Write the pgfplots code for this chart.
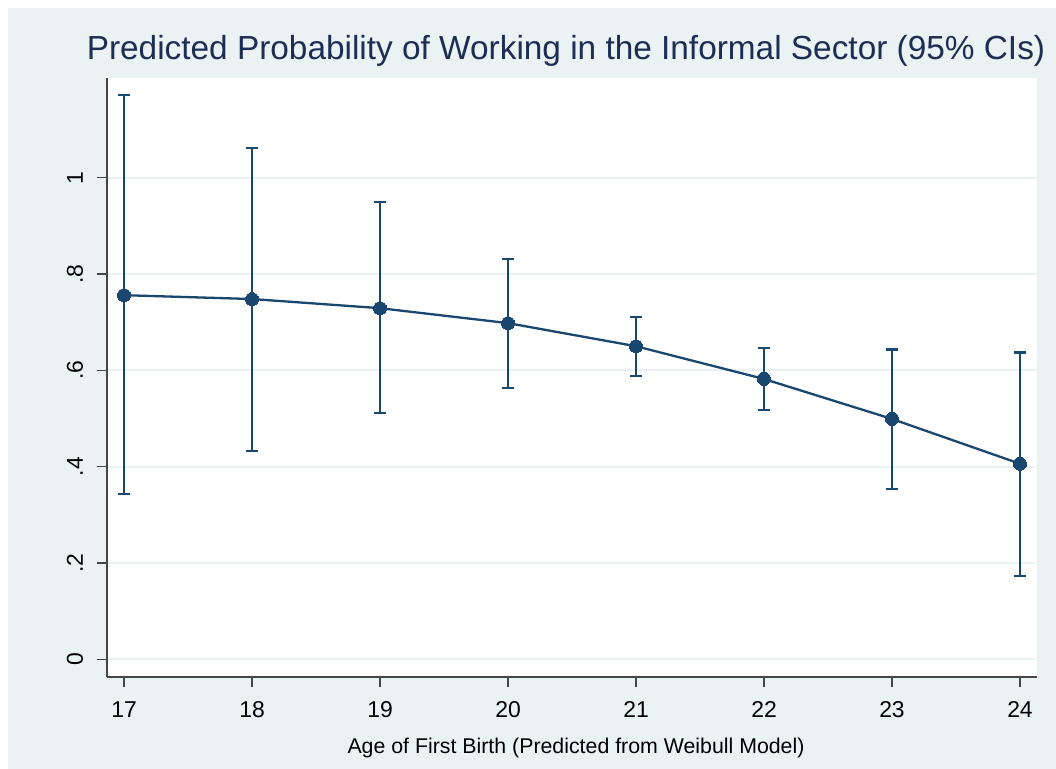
\documentclass[border=0pt]{standalone}
\usepackage{pgfplots}
\pgfplotsset{compat=1.18}
\usepackage{fontspec}
\setmainfont{Liberation Sans}
\definecolor{bgc}{RGB}{234,242,243}
\definecolor{navy}{RGB}{26,71,111}
\definecolor{ttl}{RGB}{30,45,83}
\definecolor{axc}{RGB}{70,70,70}
\begin{document}
\begin{tikzpicture}[x=1bp,y=1bp]
\useasboundingbox (0,0) rectangle (1056,769);
\fill[white] (0,0) rectangle (1056,769);
\fill[bgc] (8,0) rectangle (1056,761);
\begin{axis}[
  at={(107bp,92bp)}, anchor=south west,
  width=930bp, height=599bp, scale only axis,
  xmin=16.867, xmax=24.133, ymin=-0.0368, ymax=1.207,
  axis background/.style={fill=white},
  axis x line*=bottom, axis y line*=left,
  axis line style={color=axc, line width=1.3bp, -},
  xtick={17,18,19,20,21,22,23,24},
  xticklabels={17,18,19,20,21,22,23,24},
  ytick={0,0.2,0.4,0.6,0.8,1},
  yticklabels={0,.2,.4,.6,.8,1},
  /pgf/number format/assume math mode=true,
  tick style={color=axc, line width=1.3bp},
  major tick length=10bp,
  tick align=outside,
  ymajorgrids, xmajorgrids=false,
  major grid style={color=bgc, line width=2bp},
  ticklabel style={font=\fontsize{23}{23}\selectfont, text=black},
  xticklabel style={anchor=base, inner sep=0pt, yshift=-31bp},
  yticklabel style={rotate=90, anchor=base, inner sep=0pt, yshift=14bp},
  title={Predicted Probability of Working in the Informal Sector (95\% CIs)},
  title style={at={(axis description cs:0.5,1)}, anchor=base, inner sep=0pt, yshift=13bp, xshift=-6bp,
    font=\fontsize{33.5}{34}\selectfont, text=ttl},
  xlabel={Age of First Birth (Predicted from Weibull Model)},
  xlabel style={at={(axis description cs:0.5,0)}, anchor=base, inner sep=0pt, yshift=-77bp, xshift=4bp,
    font=\fontsize{21.4}{22}\selectfont, text=black},
  clip=false,
]
\addplot[color=navy, line width=2.3bp, mark=*, mark size=6.5bp,
  mark options={fill=navy, draw=navy, line width=0bp},
  error bars/.cd, y dir=both, y explicit,
  error mark=|,
  error bar style={line width=2.3bp, color=navy},
  error mark options={mark size=6bp, line width=2.3bp, color=navy}]
coordinates {
(17,0.756) += (0,0.416) -= (0,0.413)
(18,0.748) += (0,0.314) -= (0,0.3155)
(19,0.729) += (0,0.2205) -= (0,0.218)
(20,0.698) += (0,0.133) -= (0,0.135)
(21,0.650) += (0,0.060) -= (0,0.062)
(22,0.582) += (0,0.065) -= (0,0.064)
(23,0.499) += (0,0.144) -= (0,0.145)
(24,0.406) += (0,0.231) -= (0,0.233)
};
\end{axis}
\end{tikzpicture}
\end{document}
